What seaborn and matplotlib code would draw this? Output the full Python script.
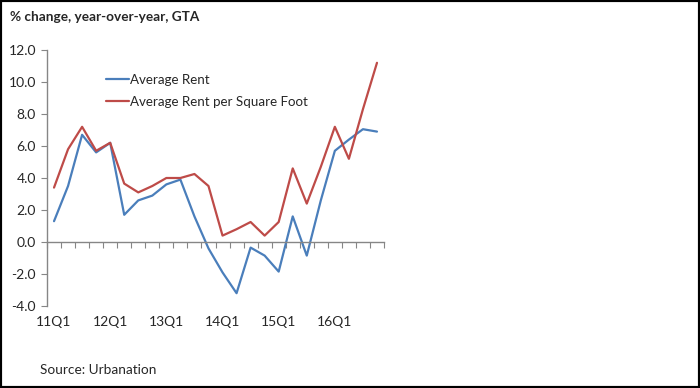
import matplotlib
matplotlib.use("Agg")
import matplotlib.pyplot as plt
import seaborn as sns
import pandas as pd
from matplotlib.patches import Rectangle

# quarters 11Q1 .. 16Q4
quarters = [f"{y}Q{q}" for y in range(11, 17) for q in range(1, 5)]
avg_rent = [1.3, 3.5, 6.7, 5.6, 6.2, 1.7, 2.6, 2.9, 3.6, 3.9, 1.6, -0.4,
            -1.9, -3.2, -0.35, -0.85, -1.85, 1.6, -0.85, 2.6, 5.7, 6.4, 7.05, 6.9]
avg_rent_psf = [3.4, 5.8, 7.2, 5.7, 6.2, 3.65, 3.1, 3.5, 4.0, 4.0, 4.25, 3.5,
                0.4, 0.8, 1.25, 0.4, 1.25, 4.6, 2.4, 4.7, 7.2, 5.2, 8.3, 11.2]
series_names = ["Average Rent", "Average Rent per Square Foot"]
label_quarters = ["11Q1", "12Q1", "13Q1", "14Q1", "15Q1", "16Q1"]
y_ticks = [-4, -2, 0, 2, 4, 6, 8, 10, 12]

df = pd.DataFrame({
    "pos": list(range(len(quarters))) * 2,
    "value": avg_rent + avg_rent_psf,
    "series": [series_names[0]] * len(quarters) + [series_names[1]] * len(quarters),
})

sns.set_style("ticks")
plt.rcParams['font.family'] = ['Lato', 'DejaVu Sans']
plt.rcParams['axes.unicode_minus'] = False

fig = plt.figure(figsize=(7, 3.88), dpi=100)
ax = fig.add_axes([47/700, 1 - 306/388, 337/700, 256/388])

sns.lineplot(data=df, x="pos", y="value", hue="series", ax=ax,
             palette=["#4A7EBB", "#BE4B48"], linewidth=1.6)

ax.set_xlim(-0.5, len(quarters) - 0.5)
ax.set_ylim(-4, 12)
ax.set_yticks(y_ticks)
ax.set_yticklabels([f"{v:.1f}" for v in y_ticks], fontsize=10)
ax.set_xlabel("")
ax.set_ylabel("")

# x axis sits at zero, ticks between categories
ax.spines['top'].set_visible(False)
ax.spines['right'].set_visible(False)
ax.spines['bottom'].set_position(('data', 0))
for s in ['left', 'bottom']:
    ax.spines[s].set_color('#868686')
    ax.spines[s].set_linewidth(1)
ax.set_xticks([i - 0.5 for i in range(len(quarters) + 1)])
ax.set_xticklabels([])
ax.tick_params(axis='x', direction='out', length=4, color='#868686')
ax.tick_params(axis='y', direction='out', length=4, color='#868686', pad=4)

# category labels at bottom of plot
for lab in label_quarters:
    ax.text(quarters.index(lab), -0.04, lab, transform=ax.get_xaxis_transform(),
            ha='center', va='top', fontsize=10)

leg = ax.legend(loc='upper left', bbox_to_anchor=(0.14, 0.955), frameon=False,
                fontsize=9.6, handlelength=1.7, handletextpad=0.1, labelspacing=0.75)

fig.text(10/700, 1 - 17/388, "% change, year-over-year, GTA", fontsize=9.8,
         fontweight='bold', ha='left', va='center')
fig.text(40/700, 1 - 370/388, "Source: Urbanation", fontsize=9.8,
         ha='left', va='center')

fig.add_artist(Rectangle((0, 0), 1, 1, transform=fig.transFigure, fill=False,
                         edgecolor='black', linewidth=3))

fig.savefig("out.png", dpi=100)
